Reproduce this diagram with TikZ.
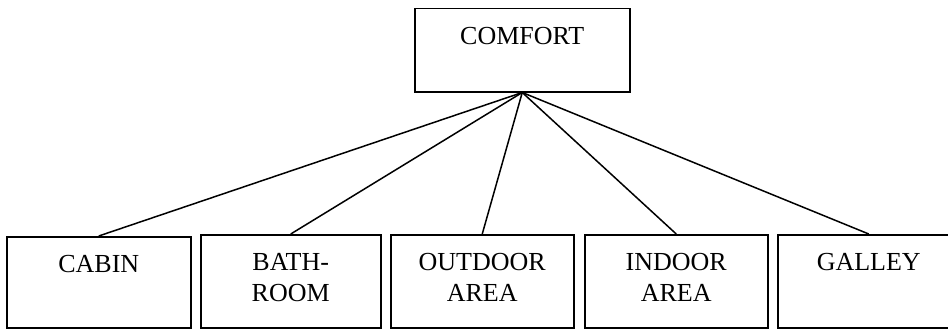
\documentclass[tikz,border=0pt]{standalone}
\usepackage{fontspec}
\setmainfont{Liberation Serif}
\begin{document}
\begin{tikzpicture}[x=1pt,y=1pt,
  box/.style={draw, line width=1.5pt, anchor=north west, inner sep=0pt},
  lbl/.style={anchor=north, inner sep=0pt, align=center, font=\fontsize{26}{31}\selectfont},
  link/.style={line width=1.5pt}]
\useasboundingbox (0,0) rectangle (948,-329);
\clip (0,0) rectangle (948,-329);
\node[box, minimum width=215pt, minimum height=83pt] (comfort) at (414,-8) {};
\node[box, minimum width=184pt, minimum height=91pt] (cabin) at (6,-236) {};
\node[box, minimum width=180pt, minimum height=93pt] (bath) at (200,-234) {};
\node[box, minimum width=183pt, minimum height=93pt] (outdoor) at (390,-234) {};
\node[box, minimum width=183pt, minimum height=93pt] (indoor) at (584,-234) {};
\node[box, minimum width=182pt, minimum height=93pt] (galley) at (777,-234) {};
\node[lbl] (comfort-t) at ([yshift=-19pt]comfort.north) {COMFORT};
\node[lbl] (cabin-t) at ([yshift=-19pt]cabin.north) {CABIN};
\node[lbl] (bath-t) at ([yshift=-19pt]bath.north) {BATH-\\ROOM};
\node[lbl] (outdoor-t) at ([yshift=-19pt]outdoor.north) {OUTDOOR\\AREA};
\node[lbl] (indoor-t) at ([yshift=-19pt]indoor.north) {INDOOR\\AREA};
\node[lbl] (galley-t) at ([yshift=-19pt]galley.north) {GALLEY};
\foreach \c in {cabin,bath,outdoor,indoor,galley}
  \draw[link] (comfort.south) -- (\c.north);
\end{tikzpicture}
\end{document}
